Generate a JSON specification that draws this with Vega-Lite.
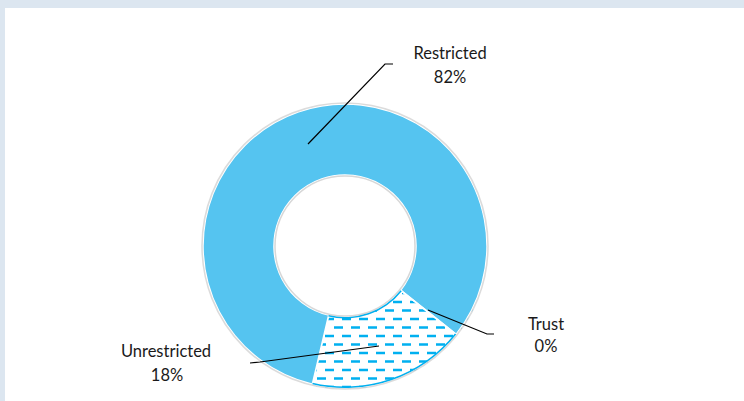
{
  "$schema": "https://vega.github.io/schema/vega-lite/v6.json",
  "width": 739,
  "height": 393,
  "autosize": {"type": "none"},
  "padding": {"left": 5, "top": 8, "right": 0, "bottom": 0},
  "background": "#dce6f0",
  "view": {"fill": "white", "stroke": null},
  "config": {"font": "Lato"},
  "datasets": {
    "donut": [
      {"category": "Unrestricted", "value": 18, "ord": 1},
      {"category": "Restricted", "value": 82, "ord": 2},
      {"category": "Trust", "value": 0, "ord": 3}
    ],
    "dashes": [
      {"ry": -47, "rx1": -45, "rx2": 135},
      {"ry": -56, "rx1": -54, "rx2": 135},
      {"ry": -64.5, "rx1": -45, "rx2": 135},
      {"ry": -73, "rx1": -54, "rx2": 135},
      {"ry": -81.5, "rx1": -45, "rx2": 135},
      {"ry": -90, "rx1": -54, "rx2": 135},
      {"ry": -98.5, "rx1": -45, "rx2": 135},
      {"ry": -107, "rx1": -54, "rx2": 135},
      {"ry": -115.5, "rx1": -45, "rx2": 135},
      {"ry": -124, "rx1": -54, "rx2": 135},
      {"ry": -132.5, "rx1": -45, "rx2": 135},
      {"ry": -141, "rx1": -54, "rx2": 135}
    ],
    "leaders": [
      {"g": "Restricted", "i": 0, "lx": -37, "ly": 102},
      {"g": "Restricted", "i": 1, "lx": 40, "ly": 182},
      {"g": "Restricted", "i": 2, "lx": 48, "ly": 182},
      {"g": "Trust", "i": 0, "lx": 83, "ly": -64},
      {"g": "Trust", "i": 1, "lx": 142, "ly": -88},
      {"g": "Trust", "i": 2, "lx": 149, "ly": -88},
      {"g": "Unrestricted", "i": 0, "lx": 34, "ly": -100},
      {"g": "Unrestricted", "i": 1, "lx": -85, "ly": -116},
      {"g": "Unrestricted", "i": 2, "lx": -95, "ly": -117}
    ],
    "labels": [
      {"label": "Restricted", "tx": 105, "ty": 192},
      {"label": "82%", "tx": 105, "ty": 168},
      {"label": "Trust", "tx": 201, "ty": -79},
      {"label": "0%", "tx": 201, "ty": -101},
      {"label": "Unrestricted", "tx": -179, "ty": -106},
      {"label": "18%", "tx": -178, "ty": -130}
    ]
  },
  "layer": [
    {
      "data": {"name": "dashes"},
      "mark": {"type": "rule", "color": "#00b0f0", "strokeWidth": 2.5, "strokeDash": [9, 8], "strokeCap": "butt"},
      "encoding": {
        "x": {"field": "rx1", "type": "quantitative", "scale": {"domain": [-340, 399], "nice": false, "zero": false}, "axis": null},
        "x2": {"field": "rx2"},
        "y": {"field": "ry", "type": "quantitative", "scale": {"domain": [-155, 238], "nice": false, "zero": false}, "axis": null}
      }
    },
    {
      "data": {"name": "donut"},
      "transform": [{"filter": "datum.ord === 1"}],
      "mark": {"type": "arc", "fill": "white", "innerRadius": 0, "outerRadius": 71, "theta": 0, "theta2": 6.2832},
      "encoding": {
        "x": {"datum": 0, "type": "quantitative"},
        "y": {"datum": 0, "type": "quantitative"}
      }
    },
    {
      "data": {"name": "donut"},
      "transform": [{"filter": "datum.ord === 1"}],
      "mark": {"type": "arc", "fill": "white", "innerRadius": 143, "outerRadius": 200, "theta": 0, "theta2": 6.2832},
      "encoding": {
        "x": {"datum": 0, "type": "quantitative"},
        "y": {"datum": 0, "type": "quantitative"}
      }
    },
    {
      "data": {"name": "donut"},
      "mark": {"type": "arc", "innerRadius": 71, "outerRadius": 142, "stroke": "white", "strokeWidth": 1.5},
      "encoding": {
        "x": {"datum": 0, "type": "quantitative"},
        "y": {"datum": 0, "type": "quantitative"},
        "theta": {"field": "value", "type": "quantitative", "stack": true, "scale": {"range": [2.2427, 8.5259]}},
        "order": {"field": "ord", "type": "quantitative"},
        "fill": {"condition": {"test": "datum.category === 'Restricted'", "value": "#55c4f0"}, "value": "transparent"}
      }
    },
    {
      "data": {"name": "donut"},
      "mark": {"type": "arc", "innerRadius": 71, "outerRadius": 72.5},
      "encoding": {
        "x": {"datum": 0, "type": "quantitative"},
        "y": {"datum": 0, "type": "quantitative"},
        "theta": {"field": "value", "type": "quantitative", "stack": true},
        "order": {"field": "ord", "type": "quantitative"},
        "fill": {"condition": {"test": "datum.category === 'Unrestricted'", "value": "#00b0f0"}, "value": "transparent"}
      }
    },
    {
      "data": {"name": "donut"},
      "mark": {"type": "arc", "innerRadius": 140.5, "outerRadius": 142},
      "encoding": {
        "x": {"datum": 0, "type": "quantitative"},
        "y": {"datum": 0, "type": "quantitative"},
        "theta": {"field": "value", "type": "quantitative", "stack": true},
        "order": {"field": "ord", "type": "quantitative"},
        "fill": {"condition": {"test": "datum.category === 'Unrestricted'", "value": "#00b0f0"}, "value": "transparent"}
      }
    },
    {
      "data": {"name": "donut"},
      "transform": [{"filter": "datum.ord === 1"}],
      "mark": {"type": "arc", "fill": null, "stroke": "#b8b8b8", "strokeOpacity": 0.5, "strokeWidth": 1.5, "innerRadius": 0, "outerRadius": 143, "theta": 0, "theta2": 6.2832},
      "encoding": {
        "x": {"datum": 0, "type": "quantitative"},
        "y": {"datum": 0, "type": "quantitative"}
      }
    },
    {
      "data": {"name": "donut"},
      "transform": [{"filter": "datum.ord === 1"}],
      "mark": {"type": "arc", "fill": null, "stroke": "#bdbdbd", "strokeOpacity": 0.6, "strokeWidth": 1.5, "innerRadius": 0, "outerRadius": 70, "theta": 0, "theta2": 6.2832},
      "encoding": {
        "x": {"datum": 0, "type": "quantitative"},
        "y": {"datum": 0, "type": "quantitative"}
      }
    },
    {
      "data": {"name": "leaders"},
      "mark": {"type": "line", "color": "#000000", "strokeWidth": 1.2},
      "encoding": {
        "x": {"field": "lx", "type": "quantitative"},
        "y": {"field": "ly", "type": "quantitative"},
        "detail": {"field": "g"},
        "order": {"field": "i", "type": "quantitative"}
      }
    },
    {
      "data": {"name": "labels"},
      "mark": {"type": "text", "font": "Lato", "fontSize": 16.5, "color": "#1a1a1a", "align": "center", "baseline": "middle"},
      "encoding": {
        "x": {"field": "tx", "type": "quantitative"},
        "y": {"field": "ty", "type": "quantitative"},
        "text": {"field": "label"}
      }
    }
  ]
}
